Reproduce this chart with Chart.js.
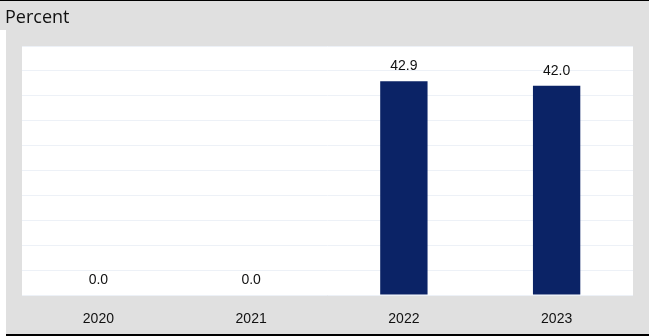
<!DOCTYPE html>
<html>
<head>
<meta charset="utf-8">
<script src="https://cdn.jsdelivr.net/npm/chart.js@4/dist/chart.umd.min.js"></script>
<style>
  html, body { margin: 0; padding: 0; background: #ffffff; }
  #wrap { position: relative; width: 649px; height: 336px; }
  canvas { display: block; }
</style>
</head>
<body>
<div id="wrap"><canvas id="c" width="649" height="336"></canvas></div>
<script>
const categories = ['2020', '2021', '2022', '2023'];
const seriesValues = [0.0, 0.0, 42.9, 42.0];
const axisTitle = 'Percent';

const panelPlugin = {
  id: 'panel',
  beforeDraw(chart) {
    const ctx = chart.ctx;
    const a = chart.chartArea;
    ctx.save();
    ctx.fillStyle = '#ffffff';
    ctx.fillRect(0, 0, 649, 336);
    ctx.fillStyle = '#e0e0e0';
    ctx.fillRect(0, 0, 649, 30);
    ctx.fillRect(6, 0, 643, 336);
    ctx.fillStyle = '#000000';
    ctx.fillRect(0, 0, 649, 1);
    ctx.fillRect(6, 334, 643, 2);
    ctx.fillStyle = '#ffffff';
    ctx.fillRect(a.left, a.top, a.right - a.left, a.bottom - a.top);
    ctx.font = '18px "Open Sans", sans-serif';
    ctx.fillStyle = '#111111';
    ctx.textAlign = 'left';
    ctx.textBaseline = 'alphabetic';
    ctx.fillText(axisTitle, 5, 23);
    ctx.restore();
  }
};

const labelPlugin = {
  id: 'valueLabels',
  afterDatasetsDraw(chart) {
    const ctx = chart.ctx;
    const meta = chart.getDatasetMeta(0);
    ctx.save();
    ctx.font = '14px "Liberation Sans", Arial, sans-serif';
    ctx.fillStyle = '#111111';
    ctx.textAlign = 'center';
    ctx.textBaseline = 'alphabetic';
    meta.data.forEach((bar, i) => {
      ctx.fillText(seriesValues[i].toFixed(1), bar.x, bar.y - 11);
    });
    ctx.restore();
  }
};

new Chart(document.getElementById('c'), {
  type: 'bar',
  data: {
    labels: categories,
    datasets: [{
      data: seriesValues,
      backgroundColor: '#0b2366',
      borderWidth: 0,
      categoryPercentage: 1.0,
      barPercentage: 0.31
    }]
  },
  options: {
    responsive: false,
    animation: false,
    devicePixelRatio: 1,
    layout: { padding: { left: 22, right: 16, top: 46, bottom: 0 } },
    plugins: {
      legend: { display: false },
      tooltip: { enabled: false },
      title: { display: false }
    },
    scales: {
      x: {
        grid: { display: false, drawTicks: false },
        border: { display: false },
        ticks: {
          color: '#111111',
          font: { family: '"Liberation Sans", Arial, sans-serif', size: 14 },
          padding: 16
        },
        afterFit(scale) { scale.height = 41; }
      },
      y: {
        min: 0,
        max: 50,
        ticks: { display: false, stepSize: 5 },
        grid: { color: '#edf1f7', lineWidth: 1, drawTicks: false },
        border: { display: false },
        afterFit(scale) { scale.width = 0; }
      }
    }
  },
  plugins: [panelPlugin, labelPlugin]
});
</script>
</body>
</html>
